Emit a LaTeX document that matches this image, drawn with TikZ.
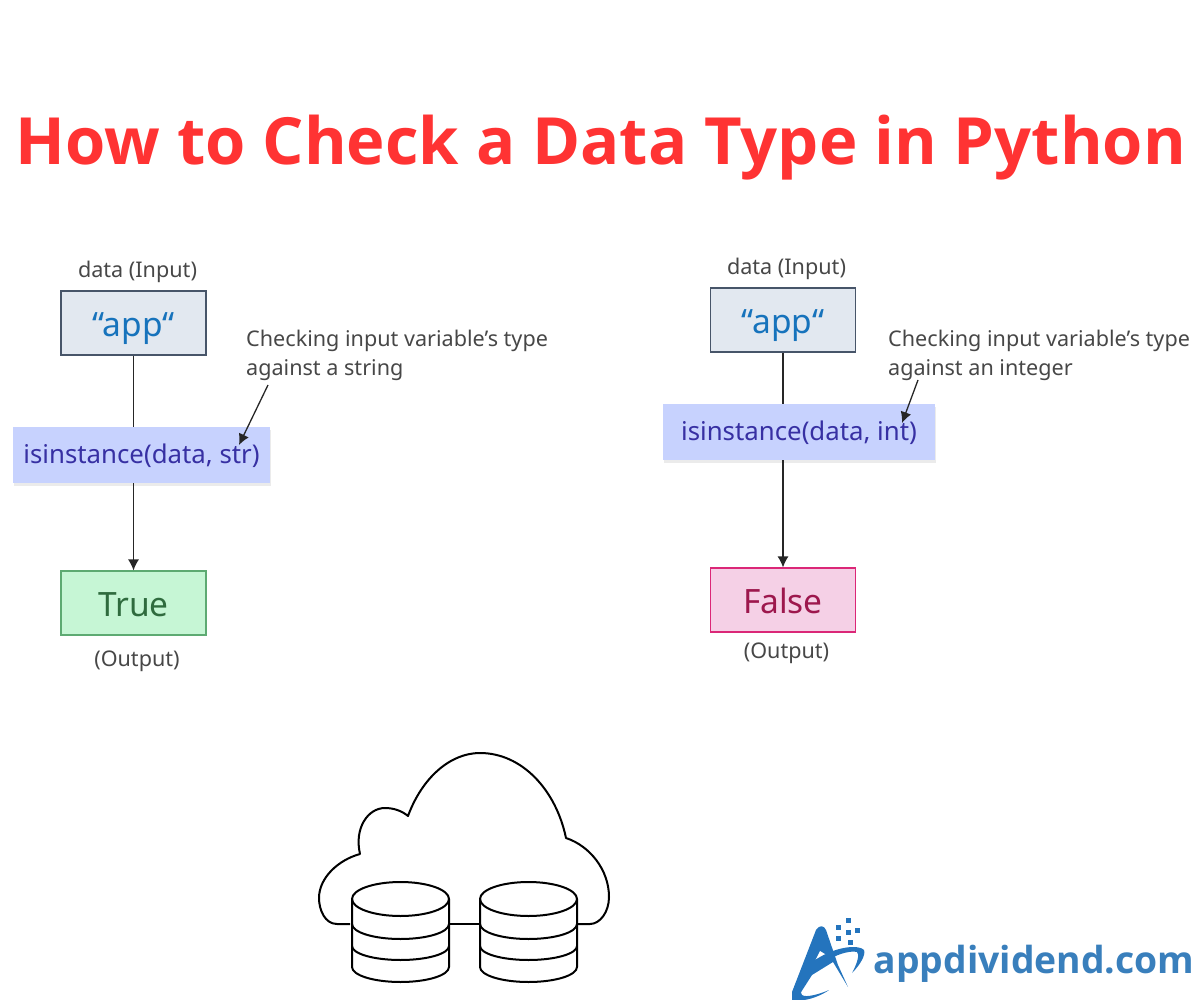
\documentclass[tikz,border=0pt]{standalone}
\usepackage{fontspec}
\setmainfont{Noto Sans}
\newfontfamily\headfont{Open Sans}
\usetikzlibrary{arrows.meta,shadows}
\definecolor{titlered}{HTML}{FF3333}
\definecolor{lbl}{HTML}{474747}
\definecolor{inblue}{HTML}{E2E8F0}
\definecolor{inedge}{HTML}{475569}
\definecolor{intext}{HTML}{1773BC}
\definecolor{fnfill}{HTML}{C7D2FE}
\definecolor{fntext}{HTML}{3730A3}
\definecolor{tfill}{HTML}{C6F6D5}
\definecolor{tedge}{HTML}{5DAA72}
\definecolor{ttext}{HTML}{2F6B3E}
\definecolor{ffill}{HTML}{F5D0E6}
\definecolor{fedge}{HTML}{DB2777}
\definecolor{ftext}{HTML}{9D174D}
\definecolor{logoblue}{HTML}{2474BD}
\definecolor{logotext}{HTML}{397FBC}
\tikzset{
 x=1pt,y=-1pt,
 box/.style={minimum width=145pt,minimum height=64pt,inner sep=0pt,line width=1.1pt,text height=27pt,text depth=0pt,font=\fontsize{33.5}{40}\selectfont},
 inbox/.style={box,draw=inedge,fill=inblue,text=intext},
 fnbox/.style={inner sep=0pt,minimum height=56pt,fill=fnfill,text=fntext,text height=17pt,text depth=0pt,font=\fontsize{25.8}{30}\selectfont,
   general shadow={shadow xshift=1pt,shadow yshift=-2.5pt,fill=black,opacity=.08}},
 truebox/.style={box,draw=tedge,fill=tfill,text=ttext},
 falsebox/.style={box,draw=fedge,fill=ffill,text=ftext},
 lab/.style={text=lbl,inner sep=0pt,font=\fontsize{21.6}{29}\selectfont},
 note/.style={lab,align=left,anchor=west},
 conn/.style={line width=1.3pt,draw=black!85},
 arr/.style={conn,-{Latex[length=11pt,width=11pt]}},
 icon/.style={line width=2pt,draw=black,line join=round},
 cyl/.style={icon,fill=white},
}
\newcommand{\dbcyl}[1]{%
 \begin{scope}[xshift=#1 pt]
 \path[cyl] (0,899) arc[start angle=180,end angle=0,x radius=48.5,y radius=-17] -- (97,967)
   arc[start angle=0,end angle=-180,x radius=48.5,y radius=-15] -- cycle;
 \draw[icon] (0,899) arc[start angle=180,end angle=360,x radius=48.5,y radius=-17];
 \draw[icon] (0,924) arc[start angle=180,end angle=360,x radius=48.5,y radius=-15];
 \draw[icon] (0,946) arc[start angle=180,end angle=360,x radius=48.5,y radius=-14];
 \end{scope}}
\begin{document}
\begin{tikzpicture}
\useasboundingbox (0,0) rectangle (1200,1000);
\node[inner sep=0pt,text=titlered,font=\fontsize{65.1}{80}\selectfont\headfont\bfseries] (title) at (601,148) {How to Check a Data Type in Python};
% left
\node[lab] (l1) at (137.5,272) {data (Input)};
\node[inbox] (a1) at (133.5,323) {“app“};
\node[fnbox,minimum width=257pt] (f1) at (141.5,455) {isinstance(data, str)};
\node[truebox] (t1) at (133.5,603) {True};
\node[lab] (o1) at (137,661) {(Output)};
\node[note] (n1) at (246,355) {Checking input variable’s type\\against a string};
\coordinate (n1s) at (268,385);
\coordinate (n1e) at (239,445);
\draw[conn] (a1) -- (a1|-f1.north);
\draw[arr] (a1|-f1.south) -- (t1.north);
\draw[arr] (n1s) -- (n1e);
% right
\node[lab] (l2) at (786.5,269) {data (Input)};
\node[inbox] (a2) at (783,320) {“app“};
\node[fnbox,minimum width=272pt] (f2) at (799,432) {isinstance(data, int)};
\node[falsebox] (t2) at (783,600) {False};
\node[lab] (o2) at (786.5,653) {(Output)};
\node[note] (n2) at (888,355) {Checking input variable’s type\\against an integer};
\coordinate (n2s) at (918,380);
\coordinate (n2e) at (902,423);
\draw[conn] (a2) -- (a2|-f2.north);
\draw[arr] (a2|-f2.south) -- (t2.north);
\draw[arr] (n2s) -- (n2e);
% cloud
\draw[icon] (350,924) -- (337,924) .. controls (325,924) and (319,910) .. (319,898)
 .. controls (319,878) and (338,860) .. (360,854)
 .. controls (354,828) and (368,808) .. (385,808)
 .. controls (394,808) and (402,811) .. (408,816)
 .. controls (422,778) and (450,753) .. (480,753)
 .. controls (522,753) and (556,790) .. (566,838)
 .. controls (590,846) and (609,870) .. (609,897)
 .. controls (609,912) and (600,924) .. (590,924) -- (578,924);
\draw[icon] (449,924) -- (480,924);
\dbcyl{352}
\dbcyl{480}
% logo
\fill[logoblue] (816,930) .. controls (819,925) and (824,925) .. (826,930) -- (838,965) -- (848,987)
 -- (833,962) -- (812,975) -- (796,1000) -- (792,1000) -- (792,992) -- cycle;
\fill[white] (820,951) -- (812,967) -- (830,956) .. controls (826,955) and (823,953) .. (820,951) -- cycle;
\fill[logoblue] (852,973) .. controls (860,965) and (866,955) .. (864,950)
 .. controls (860,945) and (838,945) .. (815,960) .. controls (800,972) and (790,990) .. (793,1000)
 -- (804,1000) .. controls (812,999) and (822,995) .. (829,990) .. controls (820,994) and (806,998) .. (802,995)
 .. controls (798,990) and (806,976) .. (818,967) .. controls (832,955) and (850,950) .. (857,952)
 .. controls (860,954) and (857,964) .. (852,973) -- cycle;
\foreach \px/\py in {848/920,838/927,848/932,857/930,838/938,850/942}
 \fill[logoblue] (\px-2.5,\py-2.5) rectangle (\px+2.5,\py+2.5);
\node[inner sep=0pt,text=logotext,font=\fontsize{37.3}{40}\selectfont\headfont\bfseries] (logo) at (1034,964) {appdividend.com};
\end{tikzpicture}
\end{document}
